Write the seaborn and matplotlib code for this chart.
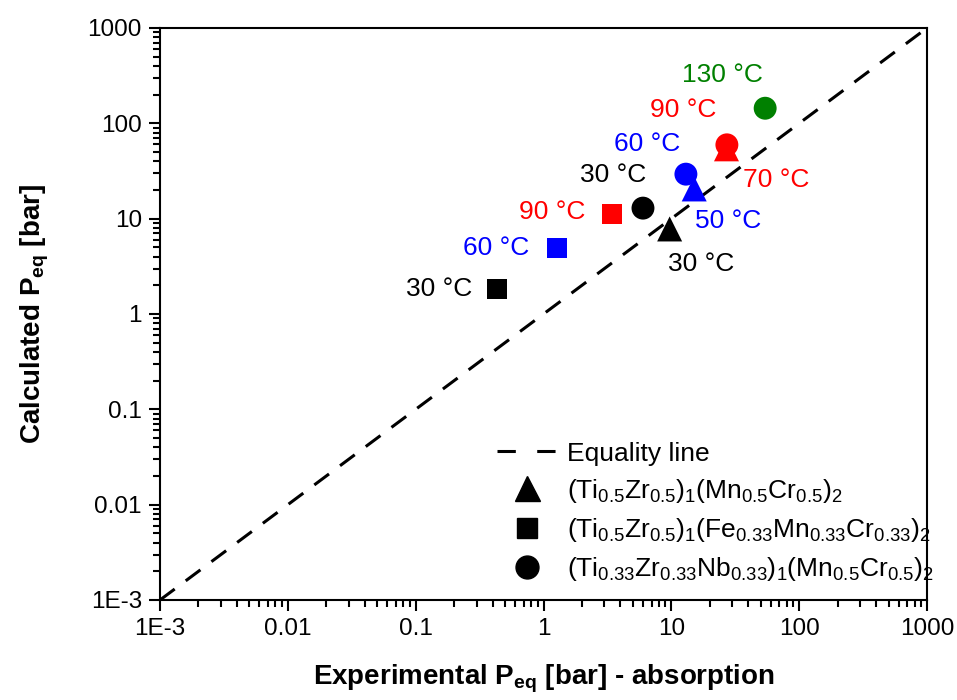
import matplotlib
matplotlib.use("Agg")
import matplotlib.pyplot as plt
from matplotlib.lines import Line2D
import seaborn as sns
import pandas as pd

# Experimental vs calculated equilibrium pressures (bar)
tri_exp = [9.7, 15.1, 27.0]
tri_calc = [7.8, 20.5, 54.0]
tri_temp = ["30 °C", "50 °C", "70 °C"]
tri_color = ["black", "blue", "red"]

sq_exp = [0.43, 1.28, 3.46]
sq_calc = [1.83, 4.9, 11.2]
sq_temp = ["30 °C", "60 °C", "90 °C"]
sq_color = ["black", "blue", "red"]

circ_exp = [6.0, 13.0, 27.2, 54.2]
circ_calc = [12.9, 29.3, 59.5, 144.0]
circ_temp = ["30 °C", "60 °C", "90 °C", "130 °C"]
circ_color = ["black", "blue", "red", "green"]

alloy_names = [
    r"$\mathregular{(Ti_{0.5}Zr_{0.5})_1(Mn_{0.5}Cr_{0.5})_2}$",
    r"$\mathregular{(Ti_{0.5}Zr_{0.5})_1(Fe_{0.33}Mn_{0.33}Cr_{0.33})_2}$",
    r"$\mathregular{(Ti_{0.33}Zr_{0.33}Nb_{0.33})_1(Mn_{0.5}Cr_{0.5})_2}$",
]

tick_values = [1e-3, 1e-2, 1e-1, 1, 10, 100, 1000]
tick_labels = ["1E-3", "0.01", "0.1", "1", "10", "100", "1000"]
minor_values = [m * d for d in tick_values[:-1] for m in range(2, 10)]

palette = {"black": "#000000", "blue": "#0000FF", "red": "#FF0000", "green": "#008000"}

sns.set_theme(style="ticks")
plt.rcParams["font.family"] = ["Liberation Sans", "DejaVu Sans"]
plt.rcParams.update({
    "mathtext.fontset": "custom",
    "mathtext.rm": "Liberation Sans",
    "mathtext.it": "Liberation Sans:italic",
    "mathtext.bf": "Liberation Sans:bold",
    "text.color": "black",
    "axes.labelcolor": "black",
    "axes.edgecolor": "black",
    "xtick.color": "black",
    "ytick.color": "black",
})

fig = plt.figure(figsize=(9.57, 7.0), dpi=100)
ax = fig.add_axes([160 / 957, 100 / 700, 767 / 957, 572 / 700])

ax.set_xscale("log")
ax.set_yscale("log")

# equality line
eq = pd.DataFrame({"x": [tick_values[0], tick_values[-1]],
                   "y": [tick_values[0], tick_values[-1]]})
sns.lineplot(data=eq, x="x", y="y", ax=ax, color="black", lw=2.2, zorder=2)
ax.lines[-1].set_dashes([6, 4.5])

groups = [
    (tri_exp, tri_calc, tri_color, "^", 18),
    (sq_exp, sq_calc, sq_color, "s", 14.5),
    (circ_exp, circ_calc, circ_color, "o", 16.5),
]
for ex, ca, cl, mk, ms in groups:
    df = pd.DataFrame({"exp": ex, "calc": ca, "c": cl})
    sns.scatterplot(data=df, x="exp", y="calc", hue="c", palette=palette,
                    marker=mk, s=ms ** 2, linewidth=0, legend=False, ax=ax,
                    zorder=3)

# temperature labels, offset in pixels from each point
tri_off = [(31, -35), (34, -32), (50, -31)]
sq_off = [(-58, 0), (-61, 0), (-60, 2)]
circ_off = [(-30, 33), (-39, 30), (-44, 35), (-43, 33)]
for ex, ca, tp, cl, off in [
    (tri_exp, tri_calc, tri_temp, tri_color, tri_off),
    (sq_exp, sq_calc, sq_temp, sq_color, sq_off),
    (circ_exp, circ_calc, circ_temp, circ_color, circ_off),
]:
    for x, y, t, c, o in zip(ex, ca, tp, cl, off):
        ax.annotate(t, (x, y), xytext=o, textcoords="offset pixels",
                    ha="center", va="center", fontsize=19, color=palette[c])

ax.set_xlim(tick_values[0], tick_values[-1])
ax.set_ylim(tick_values[0], tick_values[-1])
ax.set_xticks(tick_values)
ax.set_xticklabels(tick_labels)
ax.set_yticks(tick_values)
ax.set_yticklabels(tick_labels)
ax.set_xticks(minor_values, minor=True)
ax.set_yticks(minor_values, minor=True)
ax.set_xticklabels([], minor=True)
ax.set_yticklabels([], minor=True)

for s in ax.spines.values():
    s.set_linewidth(1.5)
    s.set_color("black")
ax.tick_params(which="major", direction="out", length=8, width=1.5,
               labelsize=17.5, pad=5, colors="black")
ax.tick_params(which="minor", direction="out", length=5, width=1.5,
               colors="black", bottom=True, left=True)

ax.set_xlabel(r"Experimental P$_\mathbf{eq}$ [bar] - absorption",
              fontsize=20, fontweight="bold", labelpad=16)
ax.set_ylabel(r"Calculated P$_\mathbf{eq}$ [bar]",
              fontsize=20, fontweight="bold", labelpad=26)

handles = [
    Line2D([], [], color="black", lw=2.2, dashes=[6, 7]),
    Line2D([], [], color="black", marker="^", ms=18, lw=0),
    Line2D([], [], color="black", marker="s", ms=14.5, lw=0),
    Line2D([], [], color="black", marker="o", ms=16.5, lw=0),
]
labels = ["Equality line"] + alloy_names
ax.legend(handles, labels, loc="lower left", bbox_to_anchor=(0.439, 0.03),
          frameon=False, fontsize=19, handlelength=2.27, handletextpad=0.38,
          labelspacing=0.42, borderpad=0, borderaxespad=0)

fig.savefig("out.png", dpi=100)
